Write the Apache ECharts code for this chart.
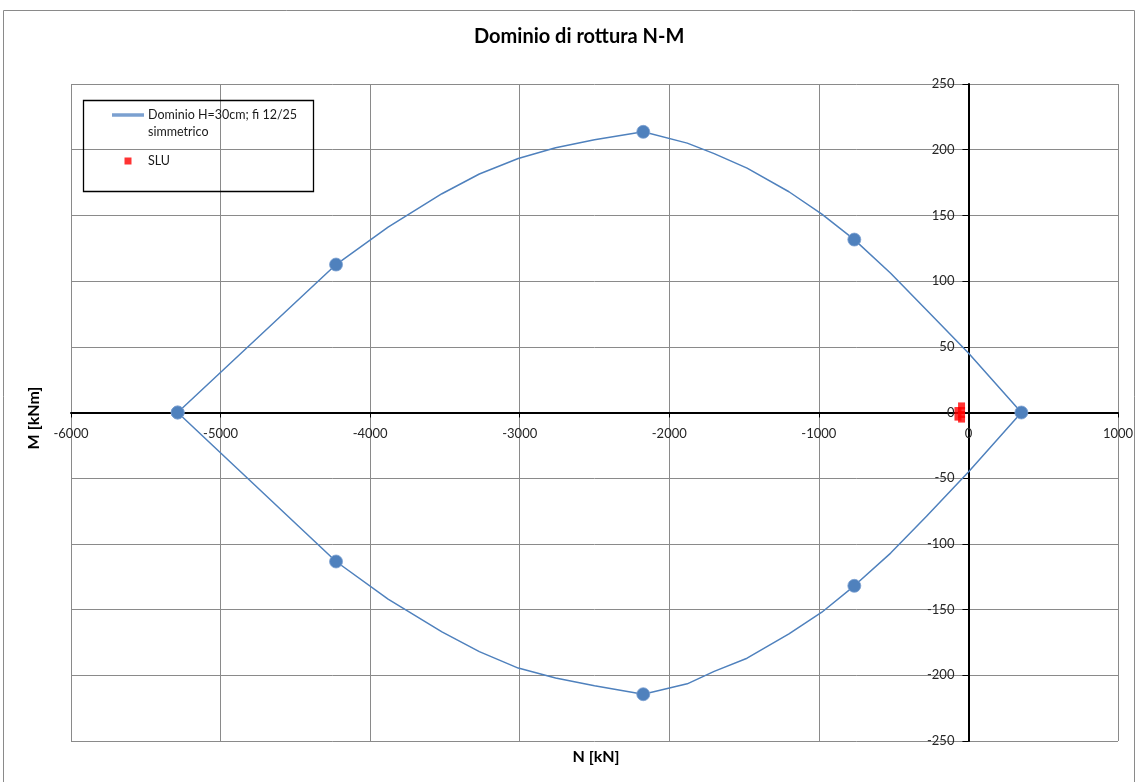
<!DOCTYPE html>
<html>
<head>
<meta charset="utf-8">
<title>Dominio di rottura N-M</title>
<script src="https://cdn.jsdelivr.net/npm/echarts@6/dist/echarts.min.js"></script>
<style>
  html, body { margin: 0; padding: 0; background: #fff; }
  #chart { width: 1138px; height: 782px; }
</style>
</head>
<body>
<div id="chart"></div>
<script>
// Interaction domain N-M, section H=30cm, bars fi 12/25 (symmetric)
// Polygon traced upper branch left->right, then lower branch back.
const domainN = [-5287, -4228, -3880, -3520, -3270, -3010, -2760, -2500, -2174, -1880, -1700, -1480, -1200, -980, -763, -520, -280, 0, 354,
                 0, -280, -520, -763, -980, -1200, -1480, -1700, -1880, -2174, -2500, -2760, -3010, -3270, -3520, -3880, -4228, -5287];
const domainM = [0, 112.6, 141, 166.5, 181.5, 193.3, 201.5, 207.5, 213.6, 205, 197, 186, 168, 151, 131.6, 106, 78, 45.3, 0,
                 -45.3, -79, -107, -131.9, -152, -168.5, -187, -197, -206.5, -214.4, -208, -202, -194.5, -182, -167, -142, -113.4, 0];
// 1 = characteristic point of the domain (drawn with a marker)
const domainKey = [1, 1, 0, 0, 0, 0, 0, 0, 1, 0, 0, 0, 0, 0, 1, 0, 0, 0, 1,
                   0, 0, 0, 1, 0, 0, 0, 0, 0, 1, 0, 0, 0, 0, 0, 0, 1, 1];

// Ultimate limit state load combinations
const sluN = [-70, -70, -46, -46, -46, -46];
const sluM = [1.5, -3.5, 5, 1.5, -1.5, -5];

const domainName = 'Dominio H=30cm; fi 12/25\nsimmetrico';
const sluName = 'SLU';
const xAxisTitle = 'N [kN]';
const yAxisTitle = 'M [kNm]';
const chartTitle = 'Dominio di rottura N-M';

const FONT = 'Lato, "Open Sans", "Noto Sans", sans-serif';
const BLUE = '#4F81BD';
const GRID = { left: 71, right: 20, top: 84, bottom: 41 };

const domainData = domainN.map((n, i) => ({
  value: [n, domainM[i]],
  symbol: domainKey[i] ? 'circle' : 'none'
}));
const sluData = sluN.map((n, i) => [n, sluM[i]]);

const chart = echarts.init(document.getElementById('chart'), null, { renderer: 'canvas' });

const plainNumber = v => String(v);

chart.setOption({
  backgroundColor: '#ffffff',
  animation: false,
  title: {
    text: chartTitle,
    left: 469,
    top: 22,
    textStyle: { fontFamily: FONT, fontSize: 20, fontWeight: 'bold', color: '#000' }
  },
  grid: Object.assign({ containLabel: false }, GRID),
  legend: {
    orient: 'vertical',
    left: 112,
    top: 89.5,
    padding: 0,
    itemGap: 12,
    itemWidth: 30,
    itemHeight: 7,
    selectedMode: false,
    symbolKeepAspect: true,
    // blank first line keeps the icon level with the first text line
    formatter: name => (name.indexOf('\n') >= 0 ? '\n' + name : name),
    textStyle: { fontFamily: FONT, fontSize: 12.5, lineHeight: 17, color: '#1a1a1a' },
    data: [
      { name: domainName, icon: 'path://M0,0H30V1.5H0Z' },
      { name: sluName, icon: 'path://M0,0H7V7H0Z' }
    ]
  },
  xAxis: {
    type: 'value',
    min: -6000,
    max: 1000,
    interval: 1000,
    axisLine: { onZero: false, lineStyle: { color: '#000', width: 2 } },
    axisTick: { show: true, length: 5, inside: false, lineStyle: { color: '#000', width: 1 } },
    axisLabel: { margin: 15, fontFamily: FONT, fontSize: 13, color: '#262626', formatter: plainNumber },
    splitLine: { show: true, lineStyle: { color: '#8a8a8a', width: 1 } }
  },
  yAxis: {
    type: 'value',
    min: -250,
    max: 250,
    interval: 50,
    axisLine: { onZero: false, lineStyle: { color: '#000', width: 2 } },
    axisTick: { show: true, length: 6, inside: false, lineStyle: { color: '#000', width: 1 } },
    axisLabel: { margin: 14, fontFamily: FONT, fontSize: 13, color: '#262626', formatter: plainNumber },
    splitLine: { show: true, lineStyle: { color: '#8a8a8a', width: 1 } }
  },
  graphic: [
    {
      type: 'rect', z: -10, silent: true,
      shape: { x: 3.5, y: 10.5, width: 1131, height: 780 },
      style: { fill: 'none', stroke: '#8a8a8a', lineWidth: 1 }
    },
    {
      type: 'rect', z: 100, silent: true,
      shape: { x: 83.5, y: 100.5, width: 230, height: 91 },
      style: { fill: 'none', stroke: '#000', lineWidth: 1.3 }
    },
    {
      type: 'text', z: 100, silent: true,
      x: 596, y: 757,
      style: { text: xAxisTitle, font: 'bold 16px ' + FONT, fill: '#000', align: 'center', verticalAlign: 'middle' }
    },
    {
      type: 'text', z: 100, silent: true,
      x: 34, y: 418, rotation: Math.PI / 2,
      style: { text: yAxisTitle, font: 'bold 16px ' + FONT, fill: '#000', align: 'center', verticalAlign: 'middle' }
    }
  ],
  series: [
    {
      name: domainName,
      type: 'line',
      data: domainData,
      symbol: 'circle',
      symbolSize: 13,
      showSymbol: true,
      showAllSymbol: true,
      smooth: false,
      lineStyle: { color: BLUE, width: 1.5 },
      itemStyle: { color: BLUE, borderColor: '#7ba0d0', borderWidth: 0.8 },
      z: 3
    },
    {
      name: sluName,
      type: 'scatter',
      data: sluData,
      symbol: 'rect',
      symbolSize: 7,
      itemStyle: { color: '#FF0000' },
      z: 4
    }
  ]
});

// Move both axes (line, ticks and labels) so they cross at the origin.
const origin = chart.convertToPixel({ gridIndex: 0 }, [0, 0]);
const plotBottom = chart.getHeight() - GRID.bottom;
chart.setOption({
  xAxis: { offset: -(plotBottom - origin[1]) },
  yAxis: { offset: -(origin[0] - GRID.left) }
});
</script>
</body>
</html>
